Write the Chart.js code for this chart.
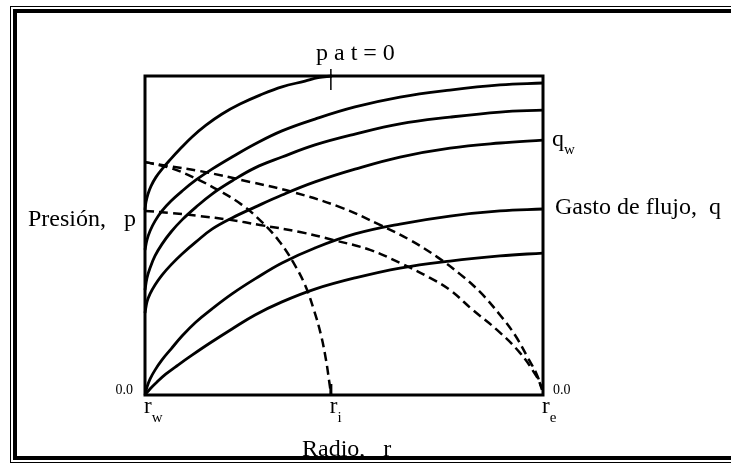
<!DOCTYPE html>
<html>
<head>
<meta charset="utf-8">
<script src="https://cdn.jsdelivr.net/npm/chart.js@4.4.0/dist/chart.umd.min.js"></script>
<style>
  html, body { margin: 0; padding: 0; background: #fff; }
  #wrap { width: 731px; height: 469px; }
</style>
</head>
<body>
<div id="wrap"><canvas id="radialChart" width="731" height="469"></canvas></div>
<script>
// radius as % of r_e, value as % of axis height
const ticksR = [0, 46.7, 100];
const tickNames = ["r", "r", "r"];
const tickSubs = ["w", "i", "e"];

// pressure profiles (solid)
const p1x = [0, 0.25, 0.75, 1.51, 2.76, 4.27, 6.28, 8.79, 11.81, 15.33, 19.35, 23.87, 28.89, 34.42, 40.2, 43.47, 46.98];
const p1y = [58.0, 60.5, 63.0, 65.5, 68.3, 70.8, 73.7, 77.1, 80.9, 84.6, 88.1, 91.2, 94.0, 96.6, 98.4, 99.5, 100];
// p2..p5 share the same radius grid
const rGrid = [0, 0.5, 1.26, 2.51, 4.27, 6.53, 9.3, 12.81, 16.83, 21.86, 27.64, 34.42, 42.71, 52.76, 64.07, 76.63, 89.2, 100];
const p2y = [45.5, 48.6, 51.4, 54.5, 57.7, 60.8, 63.9, 67.4, 70.8, 74.6, 78.7, 82.8, 86.5, 90.3, 93.4, 95.6, 97.2, 97.8];
const p3y = [32.9, 36.7, 39.8, 43.6, 47.3, 51.1, 54.9, 58.9, 63.0, 67.1, 71.2, 74.6, 78.4, 81.8, 85.0, 87.1, 88.7, 89.3];
const p4y = [25.7, 29.2, 31.7, 34.5, 37.6, 40.8, 44.2, 48.0, 52.0, 55.5, 58.9, 62.7, 66.8, 70.8, 74.6, 77.4, 79.0, 79.9];
const p5y = [0, 2.5, 5.0, 7.8, 11.0, 14.4, 18.5, 22.9, 27.0, 31.7, 36.4, 41.4, 46.1, 50.5, 53.6, 56.1, 57.7, 58.3];
const p6x = [0, 1.26, 3.02, 5.28, 8.29, 11.81, 16.33, 21.86, 27.64, 34.42, 42.71, 52.76, 64.07, 76.63, 89.2, 100];
const p6y = [0, 1.9, 4.1, 6.6, 9.4, 12.5, 16.3, 20.7, 25.1, 29.2, 33.2, 36.7, 39.8, 42.0, 43.6, 44.5];

// flow rate profiles (dashed)
const q1x = [0, 6.28, 12.56, 18.84, 24.37, 29.4, 33.67, 37.19, 40.2, 42.46, 44.22, 45.48, 46.23, 46.73];
const q1y = [73.0, 71.2, 68.0, 63.9, 59.6, 54.2, 48.3, 41.7, 34.5, 26.6, 18.8, 11.0, 4.7, 0.3];
const q2x = [0, 5.78, 13.82, 26.38, 37.19, 49.0, 59.05, 66.58, 73.37, 79.15, 84.17, 89.2, 92.96, 96.23, 98.49, 99.75];
const q2y = [73.0, 71.8, 70.2, 66.8, 63.6, 58.9, 53.3, 48.6, 43.3, 37.9, 32.3, 25.1, 18.8, 11.6, 6.3, 1.6];
const q3x = [0, 6.28, 13.82, 21.36, 28.89, 38.94, 47.24, 56.53, 64.07, 71.61, 76.63, 82.41, 88.44, 94.22, 98.49, 99.5];
const q3y = [57.7, 57.1, 56.1, 54.9, 53.3, 51.1, 48.6, 45.5, 41.4, 36.7, 32.9, 26.6, 20.4, 13.2, 5.6, 2.8];

function pts(xs, ys) {
    return xs.map((x, i) => ({ x: x, y: ys[i] }));
}

function solid(xs, ys) {
    return {
        data: pts(xs, ys),
        borderColor: "#000",
        borderWidth: 2.8,
        pointRadius: 0,
        fill: false,
        clip: false,
        tension: 0.4
    };
}

function dashed(xs, ys) {
    return {
        data: pts(xs, ys),
        borderColor: "#000",
        borderWidth: 2.5,
        borderDash: [9, 5],
        pointRadius: 0,
        fill: false,
        clip: false,
        tension: 0.4
    };
}

const SERIF = "'Liberation Serif', 'DejaVu Serif', serif";

const frameAndLabels = {
    id: "frameAndLabels",
    beforeDraw(chart) {
        const { ctx, width, height } = chart;
        ctx.save();
        ctx.fillStyle = "#fff";
        ctx.fillRect(0, 0, width, height);
        // double border
        ctx.strokeStyle = "#000";
        ctx.lineWidth = 1;
        ctx.strokeRect(10.5, 6.5, width + 20, height - 13);
        ctx.lineWidth = 4;
        ctx.strokeRect(15, 11, width + 20, height - 22);
        ctx.restore();
    },
    afterDraw(chart) {
        const { ctx, chartArea, scales } = chart;
        const xs = scales.x;
        const { left, right, top, bottom } = chartArea;

        ctx.save();
        ctx.strokeStyle = "#000";
        // plot box
        ctx.lineWidth = 3;
        ctx.strokeRect(left, top, right - left, bottom - top);

        // r_i ticks
        const xi = xs.getPixelForValue(ticksR[1]);
        ctx.lineWidth = 3;
        ctx.beginPath();
        ctx.moveTo(xi, bottom);
        ctx.lineTo(xi, bottom - 11);
        ctx.stroke();
        ctx.lineWidth = 1.5;
        ctx.beginPath();
        ctx.moveTo(xi, top - 7);
        ctx.lineTo(xi, top + 14);
        ctx.stroke();

        ctx.fillStyle = "#000";
        ctx.textBaseline = "alphabetic";
        ctx.textAlign = "left";

        // r_w, r_i, r_e
        ticksR.forEach((v, i) => {
            const px = xs.getPixelForValue(v);
            ctx.font = "23px " + SERIF;
            ctx.fillText(tickNames[i], px - 1, bottom + 18);
            const w = ctx.measureText(tickNames[i]).width;
            ctx.font = "15px " + SERIF;
            ctx.fillText(tickSubs[i], px - 1 + w, bottom + 27);
        });

        // zero labels
        ctx.font = "14px " + SERIF;
        ctx.textAlign = "right";
        ctx.fillText("0.0", left - 12, bottom - 1);
        ctx.textAlign = "left";
        ctx.fillText("0.0", right + 10, bottom - 1);

        // axis titles
        ctx.font = "24px " + SERIF;
        ctx.fillText("Radio,   r", 302, 456);
        ctx.fillText("Presión,   p", 28, 226);
        ctx.fillText("Gasto de flujo,  q", right + 12, 214);
        ctx.fillText("p a t = 0", 316, 60);

        // q_w
        ctx.fillText("q", right + 9, 146);
        const qw = ctx.measureText("q").width;
        ctx.font = "15px " + SERIF;
        ctx.fillText("w", right + 9 + qw, 154);

        ctx.restore();
    }
};

new Chart(document.getElementById("radialChart"), {
    type: "line",
    data: {
        datasets: [
            solid(p1x, p1y),
            solid(rGrid, p2y),
            solid(rGrid, p3y),
            solid(rGrid, p4y),
            solid(rGrid, p5y),
            solid(p6x, p6y),
            dashed(q1x, q1y),
            dashed(q2x, q2y),
            dashed(q3x, q3y)
        ]
    },
    options: {
        responsive: false,
        animation: false,
        events: [],
        layout: { padding: { left: 145, right: 188, top: 76, bottom: 74 } },
        plugins: { legend: { display: false }, tooltip: { enabled: false } },
        scales: {
            x: { type: "linear", min: 0, max: 100, display: false },
            y: { type: "linear", min: 0, max: 100, display: false }
        }
    },
    plugins: [frameAndLabels]
});
</script>
</body>
</html>
